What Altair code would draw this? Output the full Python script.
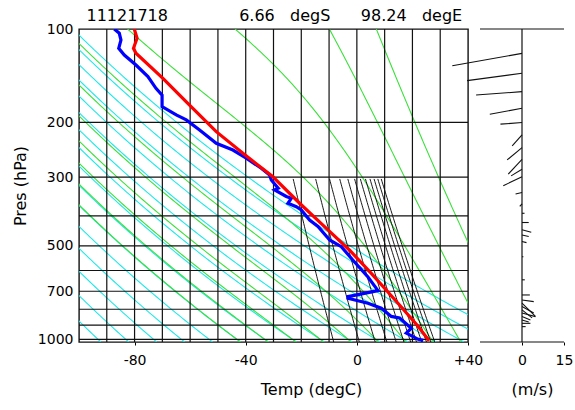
import altair as alt
import numpy as np
import pandas as pd

# ---------------- header text ----------------
date_str = "11121718"
lat_str = "6.66"
lat_unit = "degS"
lon_str = "98.24"
lon_unit = "degE"

# ---------------- sounding ----------------
temp_p = [100, 107.1, 115.4, 119.7, 144.2, 175.7, 214.2, 251.6, 299.1, 306.7,
          364.3, 443.8, 516.2, 612.9, 765.3, 909.2, 1010]
temp_t = [-80.1, -79.1, -80.4, -79.5, -69.8, -60.3, -50.6, -41.0, -30.2, -29.0,
          -20.6, -10.4, -2.6, 5.2, 14.8, 22.1, 26.0]

dew_p = [100, 103.2, 108.5, 115.4, 121.3, 130.6, 142.4, 155.3, 163.4, 177.8,
         189.1, 196.3, 211.6, 233.5, 245.5, 260.9, 281.0, 295.5, 306.7, 325.8,
         329.8, 346.5, 351.3, 364.3, 373.8, 382.8, 412.6, 433.0, 478.3, 502.8,
         555.9, 629.9, 696.4, 728.6, 737.7, 765.3, 793.6, 843.6, 853.8, 920.9,
         955.4, 999.9, 1008]
dew_t = [-87.3, -85.5, -84.9, -85.7, -83.7, -79.5, -75.2, -72.3, -70.1, -70.1,
         -65.0, -61.4, -56.6, -50.6, -44.6, -39.8, -34.4, -31.4, -30.8, -28.3,
         -29.6, -25.4, -23.6, -24.8, -21.8, -20.0, -17.0, -14.0, -9.8, -5.6,
         -1.4, 4.0, 7.6, -3.2, -3.2, 4.0, 8.8, 12.4, 15.4, 19.6,
         17.8, 22.1, 23.9]

# ---------------- wind sticks: start pressure, end u (m/s), end pressure ----------------
wind_p = [119.8, 138.9, 159.2, 180.1, 200.2, 219.3, 241.1, 262.9, 283.3, 299.2,
          336.4, 366.0, 392.5, 420.3, 443.8, 461.0, 484.0, 541.8, 643.0, 719.5,
          747.0, 765.0, 784.0, 804.0, 823.0, 844.0, 866.0, 888.0, 910.0]
wind_u_end = [-24.9, -19.6, -16.4, -11.5, -7.7, -3.5, -5.3, -4.9, -3.9, -6.7,
              -2.3, -0.8, 0.9, 2.4, 3.3, 2.4, 1.6, 0.5, 1.0, 2.8,
              4.2, 4.8, 4.2, 3.6, 4.8, 3.0, 2.4, 3.0, 1.3]
wind_p_end = [131.3, 146.7, 163.2, 188.2, 202.6, 238.2, 264.1, 293.3, 297.4, 320.0,
              340.0, 373.0, 392.5, 420.3, 452.0, 466.0, 488.0, 541.8, 643.0, 719.5,
              756.0, 844.0, 823.0, 853.0, 845.0, 866.0, 879.0, 888.0, 910.0]

# ---------------- diagram furniture ----------------
P_TOP, P_BOT = 100, 1020
T_MIN, T_MAX = -100, 40
isotherms = [-90, -80, -70, -60, -50, -40, -30, -20, -10, 0, 10, 20, 30]
isobars = [200, 300, 400, 500, 600, 700, 800, 900, 1000]
dry_theta_k = [180, 190, 200, 210, 220, 230, 240, 250, 260, 270, 280, 290, 300, 310, 320, 330]
wet_theta_k = [230, 240, 250, 260, 270, 280, 290, 300, 310, 320, 330]
mix_gkg = [2, 4, 6, 8, 10, 12, 14, 16, 18, 20, 22, 24]
MIX_TOP = 300
wind_frame_p = [P_TOP, P_BOT]
wind_zero = [0]

# ---------------- thermodynamic guide curves ----------------
levels = np.geomspace(P_TOP, P_BOT, 120)


def es_hpa(tk):
    tc = tk - 273.15
    return 6.112 * np.exp(17.67 * tc / (tc + 243.5))


def moist_rate(tk, p):
    es = es_hpa(tk)
    rs = 0.622 * es / (p - es)
    lv = 2.501e6
    return (287.04 * tk + lv * rs) / (1005.7 + lv * lv * rs * 0.622 / (287.04 * tk * tk))


def integrate(t0, lnp0, lnp1, n=900):
    lnps = np.linspace(lnp0, lnp1, n + 1)
    h = lnps[1] - lnps[0]
    ts = [t0]
    t = t0
    for lp in lnps[:-1]:
        k1 = moist_rate(t, np.exp(lp))
        k2 = moist_rate(t + 0.5 * h * k1, np.exp(lp + 0.5 * h))
        k3 = moist_rate(t + 0.5 * h * k2, np.exp(lp + 0.5 * h))
        k4 = moist_rate(t + h * k3, np.exp(lp + h))
        t = t + h / 6 * (k1 + 2 * k2 + 2 * k3 + k4)
        ts.append(t)
    return lnps, np.array(ts)


rows = []
for th in dry_theta_k:
    for i, p in enumerate(levels):
        rows.append(("dry", th, i, p, th * (p / 1000.0) ** 0.2857 - 273.15))

for tw in wet_theta_k:
    l_up, t_up = integrate(float(tw), np.log(1000.0), np.log(P_TOP))
    l_dn, t_dn = integrate(float(tw), np.log(1000.0), np.log(P_BOT), n=40)
    lnp_all = np.concatenate([l_up[::-1], l_dn[1:]])
    t_all = np.concatenate([t_up[::-1], t_dn[1:]])
    tl = np.interp(np.log(levels), lnp_all, t_all)
    for i, p in enumerate(levels):
        rows.append(("wet", tw, i, p, tl[i] - 273.15))

for w in mix_gkg:
    for i, p in enumerate(levels[levels >= MIX_TOP * 0.999]):
        e = (w / 1000.0) * p / (0.622 + w / 1000.0)
        x = np.log(e / 6.112)
        rows.append(("mix", w, i, p, 243.5 * x / (17.67 - x)))

guides = pd.DataFrame(rows, columns=["kind", "key", "i", "p", "T"])

temp_df = pd.DataFrame({"p": temp_p, "T": temp_t, "i": range(len(temp_p))})
dew_df = pd.DataFrame({"p": dew_p, "T": dew_t, "i": range(len(dew_p))})
wind_df = pd.DataFrame({"p0": wind_p, "u0": [0.0] * len(wind_p),
                        "u1": wind_u_end, "p1": wind_p_end})

# ---------------- scales & axes ----------------
FONT = "DejaVu Sans"
W, H = 389, 313
yscale = alt.Scale(type="log", domain=[P_TOP, P_BOT], reverse=True, nice=False, zero=False)
xscale = alt.Scale(domain=[T_MIN, T_MAX], nice=False, zero=False)

xaxis = alt.Axis(values=[-80, -40, 0, 40],
                 labelExpr="datum.value > 0 ? '+' + datum.value : '' + datum.value",
                 grid=False, domain=False, ticks=True, tickSize=3, tickColor="black",
                 labelPadding=8, labelFont=FONT, labelFontSize=14, labelColor="black",
                 labelFlush=False, labelOverlap=False,
                 title="Temp (degC)", titleFont=FONT, titleFontSize=16,
                 titleFontWeight="normal", titleColor="black", titlePadding=14, titleX=232)
yaxis = alt.Axis(values=[100, 200, 300, 500, 700, 1000], format="d",
                 grid=False, domain=False, ticks=False, tickSize=0,
                 labelPadding=6, labelFont=FONT, labelFontSize=14, labelColor="black",
                 labelOverlap=False,
                 title="Pres (hPa)", titleFont=FONT, titleFontSize=16,
                 titleFontWeight="normal", titleColor="black", titlePadding=9)

X = alt.X("T:Q", scale=xscale, axis=xaxis)
Y = alt.Y("p:Q", scale=yscale, axis=yaxis)


def guide(kind, color, width):
    return alt.Chart(guides).transform_filter(alt.datum.kind == kind).mark_line(
        clip=True, color=color, strokeWidth=width).encode(
        x=X, y=Y, detail="key:N", order="i:Q")


dry = guide("dry", "#1ee8e8", 1.1)
wet = guide("wet", "#3ae03a", 1.1)
mix = guide("mix", "#000000", 0.9)

iso_t = alt.Chart(pd.DataFrame({"T": isotherms})).mark_rule(
    color="#111111", strokeWidth=1.2).encode(x=X)
iso_p = alt.Chart(pd.DataFrame({"p": isobars})).mark_rule(
    color="#111111", strokeWidth=1.2).encode(y=Y)

temp_line = alt.Chart(temp_df).mark_line(color="#ff0000", strokeWidth=3.2, clip=True).encode(
    x=X, y=Y, order="i:Q")
dew_line = alt.Chart(dew_df).mark_line(color="#0000ff", strokeWidth=3.2, clip=True).encode(
    x=X, y=Y, order="i:Q")

left = alt.layer(dry, wet, mix, iso_t, iso_p, dew_line, temp_line).properties(
    width=W, height=H)

# ---------------- wind panel ----------------
wscale = alt.Scale(domain=[-15, 15], nice=False, zero=False)
waxis = alt.Axis(values=[0, 15], grid=False, domain=False, ticks=True, tickSize=3,
                 tickColor="black", labelPadding=8, labelFont=FONT, labelFontSize=14,
                 labelColor="black", labelFlush=False,
                 title="(m/s)", titleFont=FONT, titleFontSize=16, titleFontWeight="normal",
                 titleColor="black", titlePadding=14, titleX=52)
WY = alt.Y("p:Q", scale=yscale, axis=None)

frame = alt.Chart(pd.DataFrame({"p": wind_frame_p})).mark_rule(
    color="#111111", strokeWidth=1.2).encode(y=WY)
zero = alt.Chart(pd.DataFrame({"u": wind_zero})).mark_rule(
    color="#111111", strokeWidth=1.2).encode(x=alt.X("u:Q", scale=wscale, axis=waxis))
sticks = alt.Chart(wind_df).mark_rule(color="#111111", strokeWidth=1.1).encode(
    x=alt.X("u0:Q", scale=wscale, axis=waxis), x2="u1:Q",
    y=alt.Y("p0:Q", scale=yscale, axis=None), y2="p1:Q")

right = alt.layer(frame, zero, sticks).properties(
    width=84, height=H, view=alt.ViewBackground(stroke=None))

nb = "\u00a0"
title_text = (date_str + nb * 14 + lat_str + nb * 3 + lat_unit + nb * 6 +
              lon_str + nb * 3 + lon_unit)

chart = alt.hconcat(left, right, spacing=12, bounds="flush").properties(
    title=alt.TitleParams(text=title_text, anchor="start", frame="group", font=FONT,
                          fontSize=16, fontWeight="normal", color="black",
                          offset=-3, dx=7.5),
    padding={"left": 11, "top": 8, "right": 0, "bottom": 0},
    background="white",
).configure_view(stroke="#111111", strokeWidth=1.4)

chart.save("out.html", embed_options={"renderer": "svg", "actions": False})
